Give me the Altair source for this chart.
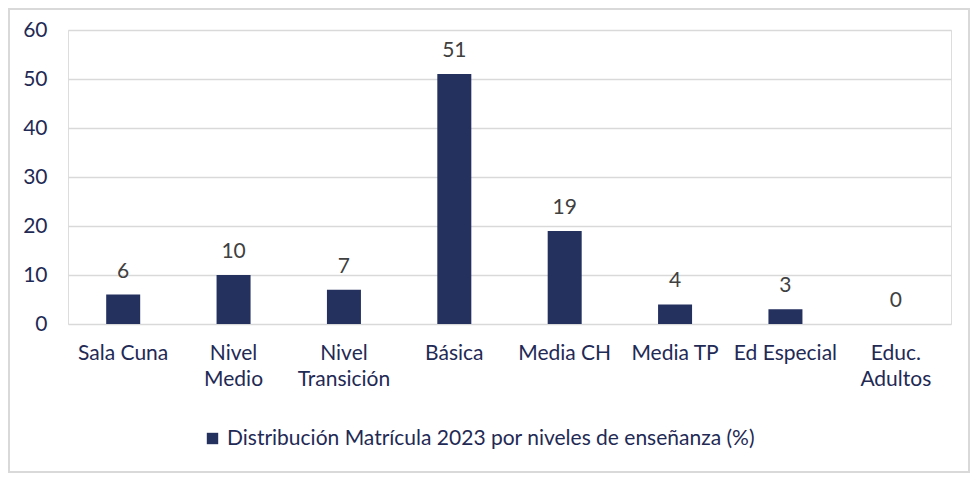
import altair as alt
import pandas as pd

categorias = ["Sala Cuna", "Nivel Medio", "Nivel Transición", "Básica", "Media CH",
              "Media TP", "Ed Especial", "Educ. Adultos"]
valores = [6, 10, 7, 51, 19, 4, 3, 0]
serie = "Distribución Matrícula 2023 por niveles de enseñanza (%)"

df = pd.DataFrame({"nivel": categorias, "valor": valores, "serie": serie})

W, H = 883, 294
FONT = "Lato"
FS = 21
NAVY = "#24305E"
LABEL = "#1F2A55"

label_expr = (
    "datum.label == 'Nivel Medio' ? ['Nivel', 'Medio'] : "
    "datum.label == 'Nivel Transición' ? ['Nivel', 'Transición'] : "
    "datum.label == 'Educ. Adultos' ? ['Educ.', 'Adultos'] : datum.label"
)

x = alt.X("nivel:N", sort=categorias, title=None,
          scale=alt.Scale(paddingInner=0.69, paddingOuter=0.345),
          axis=alt.Axis(labelAngle=0, labelExpr=label_expr, labelFont=FONT, labelFontSize=FS,
                        labelColor=LABEL, labelPadding=18, labelLineHeight=26, ticks=False,
                        domain=False, labelBaseline="top"))
y = alt.Y("valor:Q", title=None,
          scale=alt.Scale(domain=[0, 60], nice=False),
          axis=alt.Axis(values=[0, 10, 20, 30, 40, 50, 60], labelFont=FONT, labelFontSize=FS,
                        labelColor=LABEL, labelPadding=21, ticks=False, domain=False,
                        gridColor="#D9D9D9", gridWidth=1.5))

bars = alt.Chart(df).mark_bar(size=34).encode(
    x=x, y=y,
    color=alt.Color("serie:N", scale=alt.Scale(range=[NAVY]), title=None,
                    legend=alt.Legend(orient="none", legendX=134, legendY=398,
                                      symbolType="square", symbolSize=130,
                                      symbolStrokeWidth=0, labelFont=FONT,
                                      labelFontSize=FS, labelColor=LABEL,
                                      labelLimit=900, labelOffset=4))
)

text = alt.Chart(df).mark_text(baseline="bottom", dy=-13, font=FONT, fontSize=FS,
                               color="#404040").encode(
    x=alt.X("nivel:N", sort=categorias), y="valor:Q", text="valor:Q")

frame = alt.Chart(df).mark_rect(fill=None, stroke="#D9D9D9", strokeWidth=1.5).encode(
    x=alt.value(-59), x2=alt.value(W + 18), y=alt.value(-21), y2=alt.value(H + 148))

chart = alt.layer(frame, bars, text).properties(
    width=W, height=H,
    autosize=alt.AutoSizeParams(type="none"),
    padding={"left": 60, "top": 22, "right": 21, "bottom": 150},
).configure_view(stroke=None).configure(background="white")

chart.save("out.html", embed_options={"renderer": "svg", "actions": False})
